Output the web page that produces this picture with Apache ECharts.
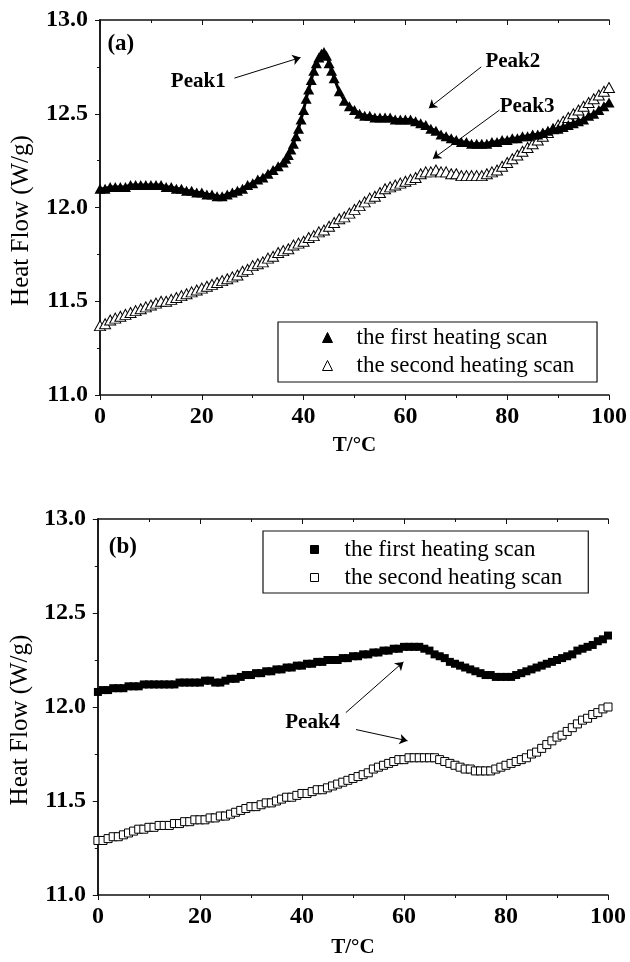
<!DOCTYPE html>
<html>
<head>
<meta charset="utf-8">
<script src="https://cdn.jsdelivr.net/npm/echarts@6/dist/echarts.min.js"></script>
<style>
  html, body { margin: 0; padding: 0; background: #fff; }
  #dsc { width: 630px; height: 962px; }
</style>
</head>
<body>
<div id="dsc"></div>
<script>
// panel (a): first heating scan (filled triangles), half steps across the sharp peak
const tempA1 = [0,1,2,3,4,5,6,7,8,9,10,11,12,13,14,15,16,17,18,19,20,21,22,23,24,25,26,27,28,29,30,31,32,33,34,35,36,
  36.5,37,37.5,38,38.5,39,39.5,40,40.5,41,41.5,42,42.5,43,43.5,44,44.5,45,45.5,46,
  47,48,49,50,51,52,53,54,55,56,57,58,59,60,61,62,63,64,65,66,67,68,69,70,71,72,73,74,75,76,77,78,79,80,
  81,82,83,84,85,86,87,88,89,90,91,92,93,94,95,96,97,98,99,100];
const firstA = [12.10,12.10,12.11,12.11,12.11,12.11,12.12,12.12,12.12,12.12,12.12,12.12,12.12,12.11,12.11,12.10,12.10,12.09,12.09,12.08,
  12.08,12.07,12.07,12.06,12.06,12.07,12.08,12.09,12.10,12.12,12.13,12.15,12.16,12.18,12.20,12.22,12.24,
  12.26,12.28,12.31,12.34,12.38,12.42,12.47,12.52,12.58,12.63,12.68,12.73,12.77,12.80,12.82,12.83,12.81,12.77,12.73,12.69,
  12.62,12.57,12.54,12.52,12.50,12.49,12.49,12.48,12.48,12.48,12.48,12.47,12.47,12.47,12.47,12.46,12.45,12.44,12.42,
  12.41,12.39,12.38,12.37,12.36,12.35,12.35,12.34,12.34,12.34,12.34,12.35,12.35,12.36,12.36,
  12.37,12.37,12.38,12.38,12.39,12.39,12.40,12.41,12.42,12.42,12.43,12.44,12.45,12.46,12.47,12.49,12.50,12.52,12.54,12.56];

// panel (a): second heating scan (open triangles), T = 0..100 step 1
const secondA = [11.37,11.38,11.40,11.41,11.42,11.43,11.44,11.45,11.46,11.47,11.48,11.49,11.50,11.50,11.51,11.52,11.53,11.54,11.55,11.56,
  11.57,11.58,11.59,11.60,11.61,11.62,11.63,11.64,11.66,11.67,11.69,11.70,11.71,11.73,11.74,11.76,11.77,11.78,11.80,11.81,
  11.82,11.84,11.85,11.87,11.88,11.90,11.92,11.94,11.95,11.97,11.99,12.01,12.03,12.05,12.06,12.08,12.10,12.11,12.12,12.13,
  12.14,12.15,12.16,12.18,12.19,12.19,12.20,12.19,12.19,12.18,12.18,12.17,12.17,12.17,12.17,12.17,12.18,12.19,12.20,12.22,
  12.24,12.26,12.28,12.30,12.32,12.34,12.36,12.38,12.40,12.42,12.44,12.46,12.48,12.50,12.52,12.54,12.56,12.58,12.60,12.62,12.64];

// panel (b): first heating scan (filled squares), T = 0..100 step 1
const firstB = [12.08,12.09,12.09,12.10,12.10,12.10,12.11,12.11,12.11,12.12,12.12,12.12,12.12,12.12,12.12,12.12,12.13,12.13,12.13,12.13,
  12.13,12.14,12.14,12.13,12.13,12.14,12.15,12.15,12.16,12.17,12.17,12.18,12.18,12.19,12.19,12.20,12.20,12.21,12.21,12.22,
  12.22,12.23,12.23,12.24,12.24,12.25,12.25,12.25,12.26,12.26,12.27,12.27,12.28,12.28,12.29,12.29,12.30,12.30,12.31,12.31,
  12.32,12.32,12.32,12.32,12.31,12.30,12.28,12.27,12.26,12.24,12.23,12.22,12.21,12.20,12.19,12.18,12.17,12.17,12.16,12.16,
  12.16,12.16,12.17,12.18,12.19,12.20,12.21,12.22,12.23,12.24,12.25,12.26,12.27,12.28,12.30,12.31,12.32,12.33,12.35,12.36,12.38];

// panel (b): second heating scan (open squares), T = 0..100 step 1
const secondB = [11.29,11.29,11.30,11.31,11.31,11.32,11.33,11.34,11.35,11.35,11.36,11.36,11.37,11.37,11.37,11.38,11.38,11.39,11.39,11.40,
  11.40,11.40,11.41,11.41,11.42,11.42,11.43,11.44,11.45,11.46,11.47,11.47,11.48,11.49,11.49,11.50,11.51,11.52,11.52,11.53,
  11.54,11.54,11.55,11.56,11.56,11.57,11.58,11.59,11.60,11.61,11.62,11.63,11.64,11.65,11.67,11.68,11.69,11.70,11.71,11.72,
  11.72,11.73,11.73,11.73,11.73,11.73,11.73,11.72,11.71,11.70,11.69,11.68,11.67,11.67,11.66,11.66,11.66,11.66,11.67,11.68,
  11.69,11.70,11.71,11.72,11.73,11.75,11.76,11.78,11.80,11.82,11.84,11.85,11.87,11.89,11.91,11.93,11.94,11.96,11.97,11.99,12.00];

const tempStep = secondA.map((_, i) => i);
const xTicks = [0, 20, 40, 60, 80, 100];
const yTicks = [11.0, 11.5, 12.0, 12.5, 13.0];
const legendNames = ['the first heating scan', 'the second heating scan'];

const SERIF = '"Liberation Serif", "DejaVu Serif", serif';
const INK = '#111';

function pairs(xs, ys) { return ys.map((v, i) => [xs[i], v]); }

function bottomAxis(grid, gap) {
  return {
    type: 'value', gridIndex: grid, position: 'bottom',
    min: xTicks[0], max: xTicks[xTicks.length - 1], interval: xTicks[1] - xTicks[0],
    name: 'T/°C', nameLocation: 'middle', nameGap: gap,
    nameTextStyle: { fontFamily: SERIF, fontWeight: 'bold', fontSize: 21, color: '#000' },
    axisLine: { lineStyle: { color: INK, width: 1.5 } },
    axisTick: { inside: false, length: 5, lineStyle: { color: INK } },
    minorTick: { show: true, splitNumber: 2, length: 3, lineStyle: { color: INK } },
    axisLabel: { margin: 10, fontFamily: SERIF, fontWeight: 'bold', fontSize: 24, color: '#000' },
    splitLine: { show: false }
  };
}
function topAxis(grid) {
  return {
    type: 'value', gridIndex: grid, position: 'top',
    min: 0, max: 100, interval: 20,
    axisLine: { lineStyle: { color: INK, width: 1.5 } },
    axisTick: { inside: true, length: 5, lineStyle: { color: INK } },
    minorTick: { show: true, splitNumber: 2, length: 3, lineStyle: { color: INK } },
    axisLabel: { show: false }, splitLine: { show: false }
  };
}
function leftAxis(grid, gap) {
  return {
    type: 'value', gridIndex: grid, position: 'left',
    min: yTicks[0], max: yTicks[yTicks.length - 1], interval: 0.5,
    name: 'Heat Flow (W/g)', nameLocation: 'middle', nameGap: gap,
    // extra right padding nudges the rotated title a little downwards, as in the original
    nameTextStyle: { fontFamily: SERIF, fontSize: 25, color: '#000', padding: [0, 26, 0, 0] },
    axisLine: { lineStyle: { color: INK, width: 1.5 } },
    axisTick: { inside: false, length: 5, lineStyle: { color: INK } },
    minorTick: { show: true, splitNumber: 2, length: 3, lineStyle: { color: INK } },
    axisLabel: { margin: 12, fontFamily: SERIF, fontWeight: 'bold', fontSize: 24, color: '#000',
      formatter: v => v.toFixed(1) },
    splitLine: { show: false }
  };
}
function rightAxis(grid) {
  return {
    type: 'value', gridIndex: grid, position: 'right',
    min: 11, max: 13, interval: 0.5,
    axisLine: { lineStyle: { color: INK, width: 1.5 } },
    axisTick: { inside: true, length: 5, lineStyle: { color: INK } },
    minorTick: { show: true, splitNumber: 2, length: 3, lineStyle: { color: INK } },
    axisLabel: { show: false }, splitLine: { show: false }
  };
}

const textMark = (txt, x, y, size) => ({
  coord: [x, y], symbol: 'rect', symbolSize: 1, itemStyle: { color: 'rgba(0,0,0,0)' },
  label: { show: true, position: 'inside', formatter: txt, fontFamily: SERIF, fontWeight: 'bold', fontSize: size, color: '#000' }
});
const arrow = (x1, y1, x2, y2) => [{ coord: [x1, y1] }, { coord: [x2, y2] }];
const arrowStyle = { silent: true, symbol: ['none', 'arrow'], symbolSize: 8,
  lineStyle: { color: '#000', width: 1, type: 'solid' }, label: { show: false } };

const legendFont = { fontFamily: SERIF, fontSize: 23, color: '#000' };

const chart = echarts.init(document.getElementById('dsc'), null, { renderer: 'canvas' });
chart.setOption({
  backgroundColor: '#fff',
  animation: false,
  grid: [
    { left: 100, top: 20, width: 509, height: 375 },
    { left: 95, top: 519, width: 513, height: 376 }
  ],
  xAxis: [bottomAxis(0, 40), topAxis(0), bottomAxis(1, 42), topAxis(1)],
  yAxis: [leftAxis(0, 66), rightAxis(0), leftAxis(1, 61), rightAxis(1)],
  legend: [
    {
      left: 278, top: 322, orient: 'vertical', itemGap: 5,
      padding: [4, 17, 5, 44], borderColor: INK, borderWidth: 1.2,
      itemWidth: 10, itemHeight: 10, textStyle: Object.assign({ padding: [0, 0, 0, 19] }, legendFont),
      data: [
        { name: legendNames[0] + ' ', icon: 'triangle', itemStyle: { color: '#000', borderColor: '#000', borderWidth: 1 } },
        { name: legendNames[1] + ' ', icon: 'triangle', itemStyle: { color: '#fff', borderColor: '#000', borderWidth: 1 } }
      ]
    },
    {
      left: 263, top: 531, orient: 'vertical', itemGap: 5,
      padding: [7, 26, 4, 47], borderColor: INK, borderWidth: 1.2,
      itemWidth: 8, itemHeight: 8, textStyle: Object.assign({ padding: [0, 0, 0, 21] }, legendFont),
      data: [
        { name: legendNames[0], icon: 'rect', itemStyle: { color: '#000', borderColor: '#000', borderWidth: 1 } },
        { name: legendNames[1], icon: 'rect', itemStyle: { color: '#fff', borderColor: '#000', borderWidth: 1 } }
      ]
    }
  ],
  series: [
    {
      name: legendNames[0] + ' ', type: 'line', xAxisIndex: 0, yAxisIndex: 0,
      data: pairs(tempA1, firstA), showAllSymbol: true,
      symbol: 'triangle', symbolSize: [11, 10],
      itemStyle: { color: '#000' }, lineStyle: { color: '#000', width: 3 },
      markLine: Object.assign({ data: [arrow(26.4, 12.69, 39.4, 12.80), arrow(74.9, 12.75, 64.6, 12.53), arrow(78.5, 12.52, 65.4, 12.26)] }, arrowStyle),
      markPoint: { silent: true, data: [
        textMark('Peak1', 19.3, 12.67, 21), textMark('Peak2', 81.1, 12.78, 21), textMark('Peak3', 83.9, 12.54, 21),
        textMark('(a)', 4.1, 12.87, 23)
      ] }
    },
    {
      name: legendNames[1] + ' ', type: 'scatter', xAxisIndex: 0, yAxisIndex: 0,
      data: pairs(tempStep, secondA),
      symbol: 'triangle', symbolSize: [11, 10],
      itemStyle: { color: '#fff', borderColor: '#000', borderWidth: 1, opacity: 1 }
    },
    {
      name: legendNames[0], type: 'line', xAxisIndex: 2, yAxisIndex: 2,
      data: pairs(tempStep, firstB), showAllSymbol: true,
      symbol: 'rect', symbolSize: 8,
      itemStyle: { color: '#000' }, lineStyle: { color: '#000', width: 3 },
      markLine: Object.assign({ data: [arrow(48.6, 11.97, 59.9, 12.24), arrow(50.6, 11.88, 60.7, 11.82)] }, arrowStyle),
      markPoint: { silent: true, data: [
        textMark('Peak4', 42.1, 11.915, 21),
        textMark('(b)', 4.9, 12.85, 23)
      ] }
    },
    {
      name: legendNames[1], type: 'scatter', xAxisIndex: 2, yAxisIndex: 2,
      data: pairs(tempStep, secondB),
      symbol: 'rect', symbolSize: 8,
      itemStyle: { color: '#fff', borderColor: '#000', borderWidth: 1, opacity: 1 }
    }
  ]
});
</script>
</body>
</html>
